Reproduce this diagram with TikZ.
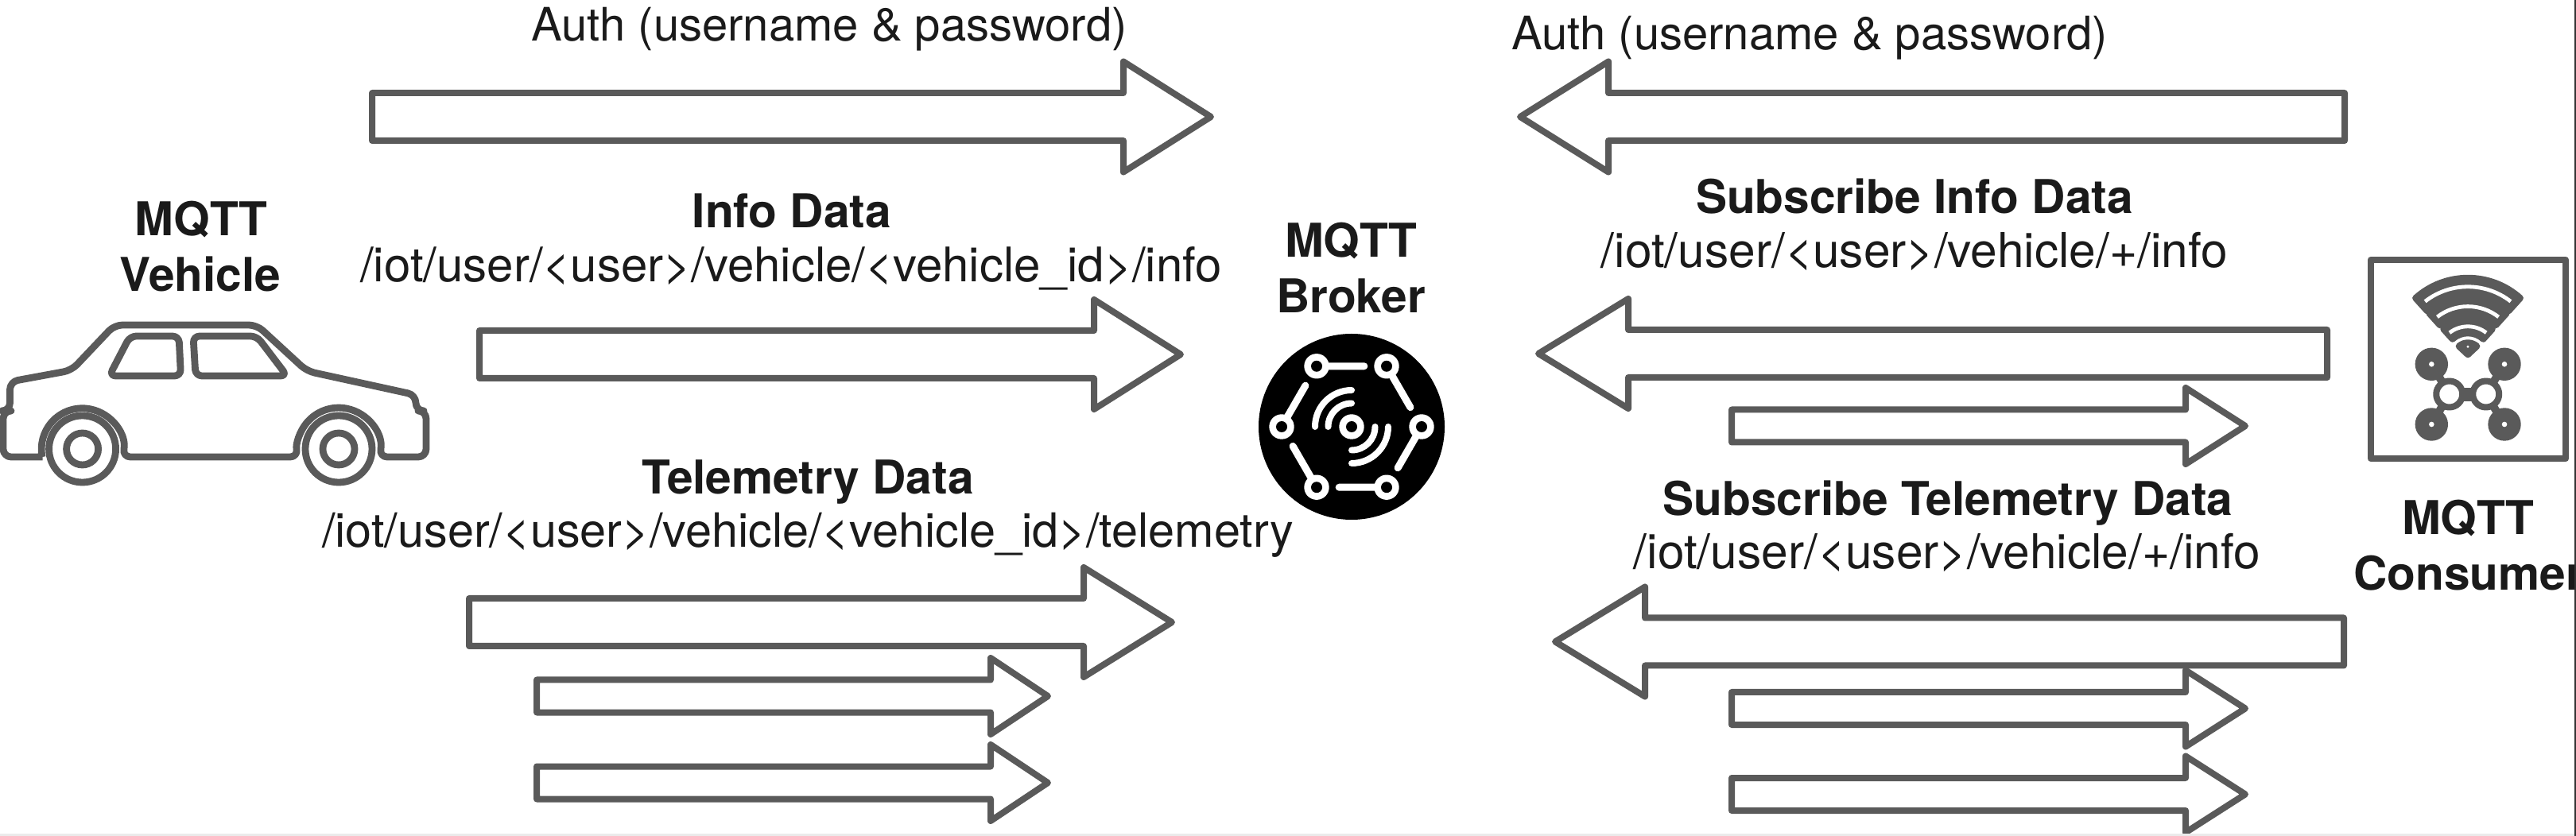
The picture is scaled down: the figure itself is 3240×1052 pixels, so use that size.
\documentclass[tikz,border=0pt]{standalone}
\usepackage{fontspec}
\usepackage{tikz}
\usetikzlibrary{calc}
\setmainfont{TeX Gyre Heros}
\definecolor{linegray}{HTML}{5A5A5A}
\definecolor{textblack}{HTML}{1A1A1A}
% tail x, neck x, tip x, centre y, half body, half head
\newcommand{\blockarrow}[6]{%
  \draw[blockline] (#1,{#4-#5}) -- (#2,{#4-#5}) -- (#2,{#4-#6}) -- (#3,#4)
    -- (#2,{#4+#6}) -- (#2,{#4+#5}) -- (#1,{#4+#5}) -- cycle;}
\begin{document}
\begin{tikzpicture}[x=0.5pt,y=-0.5pt,
    blockline/.style={draw=linegray,line width=4pt,line join=round},
    carline/.style={blockline,line width=4.4pt},
    plainlbl/.style={inner sep=0pt,anchor=base,text=textblack,font=\fontsize{29}{29}\selectfont},
    pathlbl/.style={plainlbl,font=\fontsize{30}{30}\selectfont},
    subpathlbl/.style={plainlbl,font=\fontsize{30.2}{30.2}\selectfont},
    telepathlbl/.style={plainlbl,font=\fontsize{29.7}{29.7}\selectfont},
    boldlbl/.style={plainlbl,font=\fontsize{29.3}{29.3}\selectfont\bfseries}]
  \useasboundingbox (0,0) rectangle (3240,1052);
  % arrows on the left
  \blockarrow{468}{1413}{1523}{147}{30}{69.5}
  \blockarrow{603}{1376}{1485}{446}{30}{69}
  \blockarrow{590}{1363}{1474}{783}{30}{69}
  \blockarrow{675}{1246}{1318}{876}{20.5}{48}
  \blockarrow{675}{1246}{1318}{985}{20.5}{48}
  % arrows on the right
  \blockarrow{2949}{2023}{1912}{147}{30}{69.5}
  \blockarrow{2927}{2048}{1935}{445}{30}{69}
  \blockarrow{2948}{2069}{1956}{807.5}{30}{69}
  \blockarrow{2178}{2749}{2824}{536}{20.5}{48}
  \blockarrow{2178}{2749}{2824}{891.5}{20.5}{48}
  \blockarrow{2178}{2749}{2824}{999.5}{20.5}{48}
  % labels
  \node[plainlbl] (authL) at (1043,52) {Auth (username \& password)};
  \node[plainlbl] (authR) at (2276,63) {Auth (username \& password)};
  \node[boldlbl] (infoT) at (996,287) {Info Data};
  \node[pathlbl] (infoP) at (995,355) {/iot/user/<user>/vehicle/<vehicle\_id>/info};
  \node[boldlbl] (teleT) at (1016,622) {Telemetry Data};
  \node[telepathlbl] (teleP) at (1016,689) {/iot/user/<user>/vehicle/<vehicle\_id>/telemetry};
  \node[boldlbl] (subinfoT) at (2408,269) {Subscribe Info Data};
  \node[subpathlbl] (subinfoP) at (2408,337) {/iot/user/<user>/vehicle/+/info};
  \node[boldlbl] (subteleT) at (2450,649) {Subscribe Telemetry Data};
  \node[subpathlbl] (subteleP) at (2449,716) {/iot/user/<user>/vehicle/+/info};
  \node[boldlbl] (vehicleA) at (253,297) {MQTT};
  \node[boldlbl] (vehicleB) at (252,367) {Vehicle};
  \node[boldlbl] (brokerA) at (1699,324) {MQTT};
  \node[boldlbl] (brokerB) at (1699,394) {Broker};
  \node[boldlbl] (consumerA) at (3104,673) {MQTT};
  \node[boldlbl,anchor=base west] (consumerB) at (2960,743) {Consumer};
  % car
  \draw[carline,rounded corners=5pt] (53.6,575) -- (4,575) -- (4,517) -- (12.5,517) -- (12.5,480.3)
    -- (90,466) -- (144,409) -- (323,409) -- (386,467) -- (523,497) -- (523,517) -- (536,517)
    -- (536,575) -- (477,575) arc (11:-191:52) -- (154,575) arc (11:-191:51.4);
  \draw[carline,rounded corners=4pt] (163.5,423) -- (225,423) -- (227.5,473) -- (137.5,473) -- cycle;
  \draw[carline,rounded corners=4pt] (243,423) -- (323,423) -- (361,473) -- (246,473) -- cycle;
  \foreach \cx in {103.6,426} {
    \draw[carline] (\cx,565) circle (42);
    \draw[carline] (\cx,565) circle (20);
  }
  % broker
  \coordinate (H) at (1700,537);
  \fill[black] (H) circle (117);
  \begin{scope}[shift={(H)}]
    \foreach \a in {0,60,...,300} {
      \draw[white,line width=4.5pt,line cap=round] (\a:88) -- ($(\a:88)!0.68!(\a+60:88)$);
      \fill[white] (\a:88) circle (15.7);
      \fill[black] (\a:88) circle (7);
    }
    \fill[white] (0,0) circle (15.7);
    \fill[black] (0,0) circle (7);
    \draw[white,line width=4pt,line cap=round] (180:46) arc (180:270:46);
    \draw[white,line width=4pt,line cap=round] (180:29.5) arc (180:270:29.5);
    \draw[white,line width=4pt,line cap=round] (0:46) arc (0:90:46);
    \draw[white,line width=4pt,line cap=round] (0:29.5) arc (0:90:29.5);
  \end{scope}
  % consumer
  \draw[blockline,line width=4.3pt] (2982,327) rectangle (3227,577);
  \coordinate (W) at (3104,448.3);
  \begin{scope}[shift={(W)}]
    \foreach \ra/\rb in {98.5/76.5,72.7/52.7,46/29} {
      \draw[blockline,fill=linegray] (228:\ra) arc (228:312:\ra) -- (312:\rb) arc (312:228:\rb) -- cycle;
      \draw[white,line width=2.4pt] (232:{(\ra+\rb)/2}) arc (232:308:{(\ra+\rb)/2});
    }
    \draw[blockline,fill=linegray] (0,-2) -- (228:17) arc (228:312:17) -- cycle;
    \fill[white] (0,-12) circle (1.6);
  \end{scope}
  \foreach \px/\py/\qx in {3058.3/458.3/3080.7,3150/458.3/3126.7,3058.3/534/3080.7,3150/534/3126.7} {
    \draw[blockline,line width=5pt] (\px,\py) -- (\qx,496);
    \fill[linegray] (\px,\py) circle (20.7);
    \fill[white] (\px,\py) circle (3.3);
  }
  \fill[linegray] (3095,488) rectangle (3114,505);
  \draw[blockline,fill=white] (3080.7,496) circle (16.5);
  \draw[blockline,fill=white] (3126.7,496) circle (16.5);
  % edges of the sheet
  \fill[black!8] (0,1049) rectangle (3240,1052);
  \fill[black!80] (3238,0) rectangle (3240,1052);
\end{tikzpicture}
\end{document}
